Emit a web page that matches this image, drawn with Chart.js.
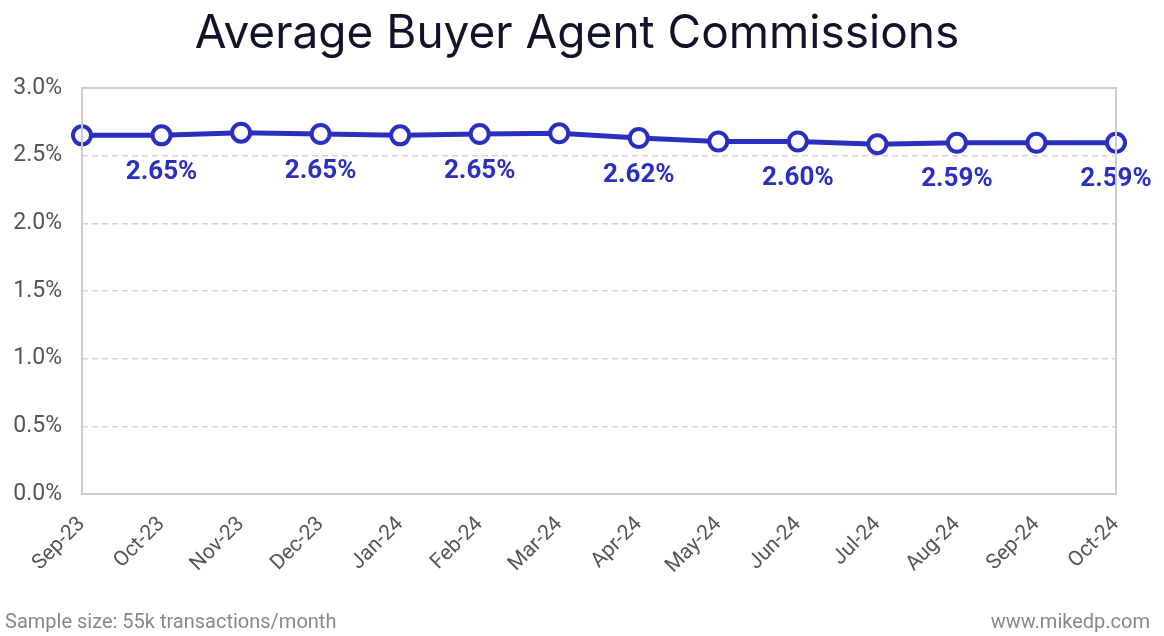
<!DOCTYPE html>
<html>
<head>
<meta charset="utf-8">
<script src="https://cdn.jsdelivr.net/npm/chart.js@4/dist/chart.umd.min.js"></script>
<style>
  html, body { margin: 0; padding: 0; background: #fff; }
  #wrap { width: 1164px; height: 636px; position: relative; }
</style>
</head>
<body>
<div id="wrap"><canvas id="chart"></canvas></div>
<script>
const MONTHS = ["Sep-23", "Oct-23", "Nov-23", "Dec-23", "Jan-24", "Feb-24", "Mar-24",
  "Apr-24", "May-24", "Jun-24", "Jul-24", "Aug-24", "Sep-24", "Oct-24"];
const COMMISSION = [2.65, 2.65, 2.67, 2.66, 2.65, 2.66, 2.665,
  2.63, 2.605, 2.605, 2.585, 2.595, 2.595, 2.595];
// labels printed under every other point
const POINT_LABELS = ["", "2.65%", "", "2.65%", "", "2.65%", "",
  "2.62%", "", "2.60%", "", "2.59%", "", "2.59%"];
const Y_TICKS = [0, 0.5, 1.0, 1.5, 2.0, 2.5, 3.0];

const BLUE = "#2a2fbf";

const frame = {
  id: "frame",
  afterDraw(chart) {
    const { ctx, chartArea: a } = chart;
    ctx.save();
    ctx.strokeStyle = "#cccccc";
    ctx.lineWidth = 2;
    ctx.strokeRect(a.left, a.top, a.right - a.left, a.bottom - a.top);
    ctx.restore();
  }
};

const pointText = {
  id: "pointText",
  afterDatasetsDraw(chart) {
    const { ctx } = chart;
    const meta = chart.getDatasetMeta(0);
    ctx.save();
    ctx.font = "bold 26px Roboto";
    ctx.fillStyle = BLUE;
    ctx.textAlign = "center";
    ctx.textBaseline = "middle";
    meta.data.forEach((pt, i) => {
      if (!POINT_LABELS[i]) return;
      ctx.fillText(POINT_LABELS[i], pt.x, pt.y + 37);
    });
    ctx.restore();
  }
};

const texts = {
  id: "texts",
  afterDraw(chart) {
    const { ctx, width } = chart;
    ctx.save();
    ctx.fillStyle = "#11132b";
    ctx.font = "46px Inter";
    ctx.textAlign = "center";
    ctx.textBaseline = "alphabetic";
    ctx.fillText("Average Buyer Agent Commissions", 577, 48);
    ctx.fillStyle = "#888888";
    ctx.font = "20px Roboto";
    ctx.textAlign = "left";
    ctx.fillText("Sample size: 55k transactions/month", 5, 628);
    ctx.textAlign = "right";
    ctx.fillText("www.mikedp.com", width - 14, 628);
    ctx.restore();
  }
};

new Chart(document.getElementById("chart"), {
  type: "line",
  data: {
    labels: MONTHS,
    datasets: [{
      data: COMMISSION,
      borderColor: BLUE,
      borderWidth: 5,
      pointRadius: 9,
      pointBorderWidth: 4,
      pointBackgroundColor: "#fff",
      pointBorderColor: BLUE,
      tension: 0,
      clip: false
    }]
  },
  options: {
    responsive: true,
    maintainAspectRatio: false,
    animation: false,
    layout: { padding: { top: 88, right: 48, left: 0, bottom: 0 } },
    plugins: {
      legend: { display: false },
      tooltip: { enabled: false },
      title: { display: false }
    },
    scales: {
      x: {
        offset: false,
        afterFit: (s) => { s.height = 142; },
        grid: { display: false },
        border: { display: false },
        ticks: {
          color: "#555",
          font: { family: "Roboto", size: 21 },
          maxRotation: 45,
          minRotation: 45,
          autoSkip: false,
          padding: 10
        }
      },
      y: {
        min: 0,
        max: 3,
        afterFit: (s) => { s.width = 82; },
        afterBuildTicks: (s) => { s.ticks = Y_TICKS.map(v => ({ value: v })); },
        grid: { color: "#d4d4d4", lineWidth: 1.5, drawTicks: false },
        border: { display: false, dash: [6, 4] },
        ticks: {
          color: "#555",
          padding: 20,
          font: { family: "Roboto", size: 23 },
          callback: (v) => v.toFixed(1) + "%"
        }
      }
    }
  },
  plugins: [frame, pointText, texts]
});
</script>
</body>
</html>
